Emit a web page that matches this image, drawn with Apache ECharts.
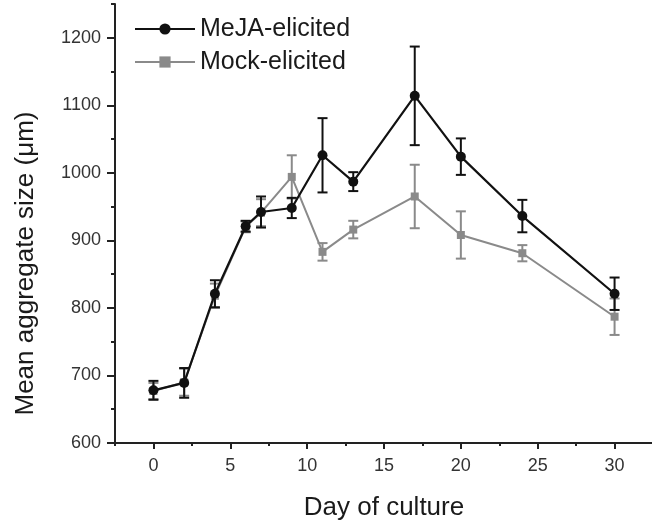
<!DOCTYPE html>
<html>
<head>
<meta charset="utf-8">
<script src="https://cdn.jsdelivr.net/npm/echarts@6/dist/echarts.min.js"></script>
<style>
  html, body { margin: 0; padding: 0; background: #fff; }
  #chart { width: 652px; height: 529px; }
</style>
</head>
<body>
<div id="chart"></div>
<script>
// Day of culture and mean aggregate size (µm) with error (±)
const days = [0, 2, 4, 6, 7, 9, 11, 13, 17, 20, 24, 30];
const mejaMean = [678, 689, 821, 921, 942, 948, 1026, 987, 1114, 1024, 936, 821];
const mejaErr  = [14, 22, 20, 8, 23, 15, 55, 14, 73, 27, 24, 24];
const mockMean = [677, 690, 818, 920, 941, 994, 883, 916, 965, 908, 881, 787];
const mockErr  = [12, 20, 18, 8, 20, 32, 13, 13, 47, 35, 12, 27];

// Axis ticks
const xMajorTicks = [0, 5, 10, 15, 20, 25, 30];
const xMinorTicks = [-2.5, 2.5, 7.5, 12.5, 17.5, 22.5, 27.5, 32.5];
const yMajorTicks = [600, 700, 800, 900, 1000, 1100, 1200];
const yMinorTicks = [650, 750, 850, 950, 1050, 1150, 1250];

const FONT = '"Liberation Sans", Arial, Helvetica, sans-serif';
const BLACK = '#111111';
const GREY = '#8a8a8a';

const chart = echarts.init(document.getElementById('chart'), null, { renderer: 'canvas' });

function errorBars(means, errs, color, width) {
  return {
    type: 'custom',
    xAxisIndex: 0,
    yAxisIndex: 0,
    data: days.map((d, i) => [d, means[i] - errs[i], means[i] + errs[i]]),
    encode: { x: 0, y: [1, 2] },
    renderItem: function (params, api) {
      const x = api.value(0);
      const lo = api.coord([x, api.value(1)]);
      const hi = api.coord([x, api.value(2)]);
      const hw = 5;
      const style = { stroke: color, lineWidth: width, fill: null };
      return {
        type: 'group',
        children: [
          { type: 'line', shape: { x1: lo[0], y1: lo[1], x2: hi[0], y2: hi[1] }, style: style },
          { type: 'line', shape: { x1: hi[0] - hw, y1: hi[1], x2: hi[0] + hw, y2: hi[1] }, style: style },
          { type: 'line', shape: { x1: lo[0] - hw, y1: lo[1], x2: lo[0] + hw, y2: lo[1] }, style: style }
        ]
      };
    },
    silent: true
  };
}

const axisLineStyle = { color: '#222', width: 2 };
const labelStyle = { color: '#333', fontSize: 18, fontFamily: FONT, formatter: v => String(v) };

const option = {
  animation: false,
  backgroundColor: '#ffffff',
  grid: { left: 115, right: -1, top: 4, bottom: 86, containLabel: false, outerBoundsMode: 'none' },
  legend: {
    data: ['MeJA-elicited', 'Mock-elicited'],
    orient: 'vertical',
    left: 129,
    top: 11,
    itemWidth: 60,
    itemHeight: 14,
    itemGap: 7,
    textStyle: { fontSize: 25, fontFamily: FONT, color: '#1a1a1a', lineHeight: 26 }
  },
  xAxis: [
    {
      type: 'value', min: -2.5, max: 32.5,
      name: 'Day of culture', nameLocation: 'middle', nameGap: 52,
      nameTextStyle: { fontSize: 26, fontFamily: FONT, color: '#1a1a1a' },
      axisLine: { show: true, onZero: false, lineStyle: axisLineStyle },
      axisTick: { show: true, inside: false, length: 6, lineStyle: { color: '#222', width: 2 }, customValues: xMajorTicks },
      axisLabel: { show: true, margin: 14, customValues: xMajorTicks, ...labelStyle },
      splitLine: { show: false }
    },
    {
      type: 'value', min: -2.5, max: 32.5, position: 'bottom',
      axisLine: { show: false, onZero: false },
      axisTick: { show: true, inside: false, length: 3, lineStyle: { color: '#222', width: 2 }, customValues: xMinorTicks },
      axisLabel: { show: false },
      splitLine: { show: false }
    }
  ],
  yAxis: [
    {
      type: 'value', min: 600, max: 1250,
      name: 'Mean aggregate size (\u03BCm)', nameLocation: 'middle', nameGap: 76, nameRotate: 90,
      nameTextStyle: { fontSize: 26, fontFamily: FONT, color: '#1a1a1a', padding: [0, 80, 0, 0] },
      axisLine: { show: true, onZero: false, lineStyle: axisLineStyle },
      axisTick: { show: true, inside: false, length: 8, lineStyle: { color: '#222', width: 2 }, customValues: yMajorTicks },
      axisLabel: { show: true, margin: 14, customValues: yMajorTicks, ...labelStyle },
      splitLine: { show: false }
    },
    {
      type: 'value', min: 600, max: 1250, position: 'left',
      axisLine: { show: false, onZero: false },
      axisTick: { show: true, inside: false, length: 4, lineStyle: { color: '#222', width: 2 }, customValues: yMinorTicks },
      axisLabel: { show: false },
      splitLine: { show: false }
    }
  ],
  series: [
    Object.assign(errorBars(mockMean, mockErr, GREY, 2), { name: 'mock-err', z: 1 }),
    {
      name: 'Mock-elicited', type: 'line', xAxisIndex: 0, yAxisIndex: 0, z: 2,
      data: days.map((d, i) => [d, mockMean[i]]),
      symbol: 'rect', symbolSize: 8, showAllSymbol: true,
      lineStyle: { color: GREY, width: 2 },
      itemStyle: { color: GREY, borderWidth: 0 }
    },
    Object.assign(errorBars(mejaMean, mejaErr, BLACK, 2), { name: 'meja-err', z: 3 }),
    {
      name: 'MeJA-elicited', type: 'line', xAxisIndex: 0, yAxisIndex: 0, z: 4,
      data: days.map((d, i) => [d, mejaMean[i]]),
      symbol: 'circle', symbolSize: 10, showAllSymbol: true,
      lineStyle: { color: BLACK, width: 2.2 },
      itemStyle: { color: BLACK, borderWidth: 0 }
    }
  ]
};

chart.setOption(option);
</script>
</body>
</html>
